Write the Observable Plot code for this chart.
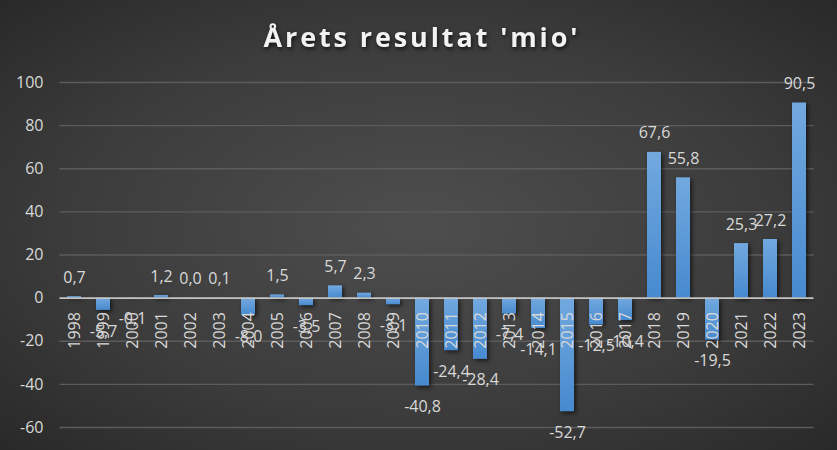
<!DOCTYPE html>
<html><head><meta charset="utf-8">
<script src="https://cdn.jsdelivr.net/npm/d3@7"></script>
<script src="https://cdn.jsdelivr.net/npm/@observablehq/plot@0.6"></script>
<style>
html,body{margin:0;padding:0;background:#2a2a2a;}
#wrap{position:relative;width:837px;height:450px;overflow:hidden;
  background:radial-gradient(ellipse 75% 75% at 50% 50%, #4e4e4e 0%, #3c3c3c 55%, #262626 100%);}
#wrap svg g[aria-label="bar"]{filter:drop-shadow(2px 2px 2px rgba(0,0,0,0.6));}
#wrap svg text.ttl{filter:drop-shadow(1px 2px 2px rgba(0,0,0,0.7));}
</style>
</head><body>
<div id="wrap"></div>
<script>
const titleText = "Årets resultat 'mio'";
const years = ["1998","1999","2000","2001","2002","2003","2004","2005","2006","2007","2008","2009","2010","2011","2012","2013","2014","2015","2016","2017","2018","2019","2020","2021","2022","2023"];
const values = [0.7,-5.7,-0.1,1.2,0.0,0.1,-8.0,1.5,-3.5,5.7,2.3,-3.1,-40.8,-24.4,-28.4,-7.4,-14.1,-52.7,-12.5,-10.4,67.6,55.8,-19.5,25.3,27.2,90.5];
const yTicks = [-60,-40,-20,0,20,40,60,80,100];

const data = years.map((year, i) => ({year, value: values[i]}));
const fmt = v => d3.format(".1f")(v).replace(".", ",").replace("\u2212", "-");
const labelColor = "#d9d9d9";

const chart = Plot.plot({
  width: 837,
  height: 450,
  marginLeft: 59.5,
  marginRight: 23.5,
  marginTop: 82,
  marginBottom: 23,
  style: {background: "transparent", fontFamily: "'Open Sans', sans-serif", fontSize: "16px", overflow: "visible"},
  x: {type: "band", domain: years, paddingInner: 0.52, paddingOuter: 0.26, axis: null},
  y: {domain: [-60, 100], axis: null},
  marks: [
    Plot.ruleY(yTicks.filter(d => d !== 0), {stroke: "#5c5c5c", strokeWidth: 1.3}),
    Plot.text(yTicks, {y: d => d, text: d => String(d), frameAnchor: "left", textAnchor: "end", dx: -16.5, fill: labelColor, fontSize: 16}),
    Plot.barY(data, {x: "year", y: "value", fill: "url(#barGrad)"}),
    Plot.ruleY([0], {stroke: "#c4c4c4", strokeWidth: 1.8}),
    Plot.text(data, {x: "year", y: () => 0, text: "year", rotate: -90, textAnchor: "end", lineAnchor: "middle", dy: 14, fill: labelColor, fontSize: 16}),
    Plot.text(data.filter(d => d.value >= 0), {x: "year", y: "value", text: d => fmt(d.value), lineAnchor: "middle", dy: -19, fill: labelColor, fontSize: 16}),
    Plot.text(data.filter(d => d.value < 0), {x: "year", y: "value", text: d => fmt(d.value), lineAnchor: "middle", dy: 21, fill: labelColor, fontSize: 16}),
    Plot.text([titleText], {frameAnchor: "top", text: d => d, lineAnchor: "bottom", dx: -16.5, dy: -36, fill: "#f2f2f2", fontSize: 27, fontWeight: "bold"})
  ]
});

const svg = d3.select(chart);
const grad = svg.insert("defs", ":first-child").append("linearGradient")
  .attr("id", "barGrad").attr("x1", 0).attr("y1", 0).attr("x2", 0).attr("y2", 1);
grad.append("stop").attr("offset", "0%").attr("stop-color", "#72a9df");
grad.append("stop").attr("offset", "100%").attr("stop-color", "#478acf");
svg.selectAll("text").filter(function() { return this.textContent === titleText; })
  .attr("class", "ttl").attr("textLength", 314).attr("lengthAdjust", "spacing");

document.getElementById("wrap").appendChild(chart);
</script>
</body></html>
